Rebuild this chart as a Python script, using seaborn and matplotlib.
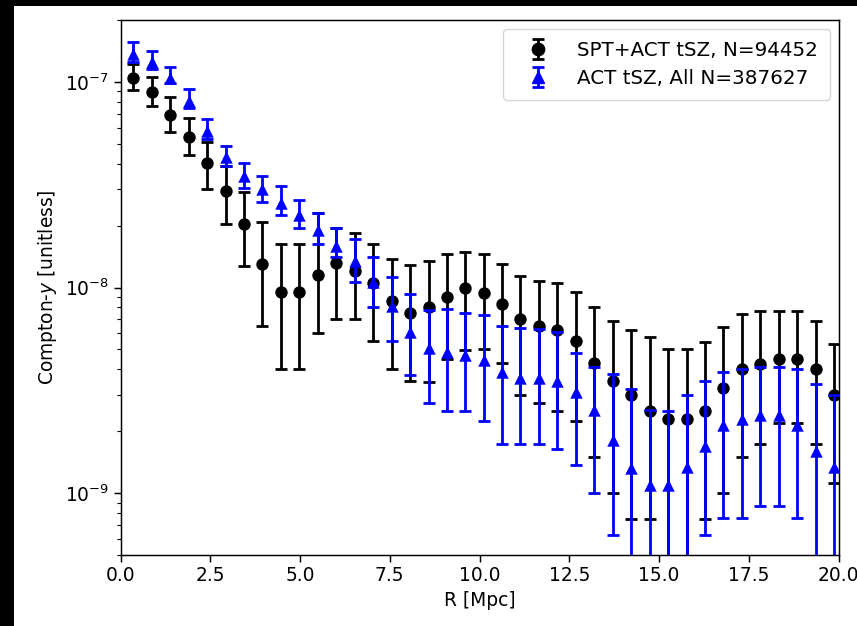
import matplotlib
matplotlib.use("Agg")
import numpy as np
import pandas as pd
import matplotlib.pyplot as plt
import seaborn as sns
from matplotlib.patches import Rectangle
from matplotlib.lines import Line2D
from matplotlib.legend_handler import HandlerTuple

# ---------------- data ----------------
R_mpc = [0.36, 0.87, 1.39, 1.90, 2.41, 2.93, 3.44, 3.95, 4.47, 4.98,
         5.50, 6.01, 6.52, 7.04, 7.55, 8.06, 8.58, 9.09, 9.60, 10.12,
         10.63, 11.14, 11.66, 12.17, 12.68, 13.20, 13.71, 14.22, 14.74, 15.25,
         15.77, 16.28, 16.79, 17.31, 17.82, 18.33, 18.85, 19.36, 19.87]

spt_y = [1.05e-7, 8.9e-8, 6.9e-8, 5.4e-8, 4.05e-8, 2.95e-8, 2.03e-8, 1.3e-8, 9.5e-9, 9.5e-9,
         1.15e-8, 1.31e-8, 1.2e-8, 1.05e-8, 8.6e-9, 7.5e-9, 8.0e-9, 9.0e-9, 9.96e-9, 9.45e-9,
         8.3e-9, 7.0e-9, 6.5e-9, 6.2e-9, 5.5e-9, 4.3e-9, 3.5e-9, 3.0e-9, 2.5e-9, 2.3e-9,
         2.3e-9, 2.5e-9, 3.25e-9, 4.0e-9, 4.25e-9, 4.5e-9, 4.5e-9, 4.0e-9, 3.0e-9]
spt_lo = [9.1e-8, 7.6e-8, 5.7e-8, 4.4e-8, 3.0e-8, 2.03e-8, 1.27e-8, 6.5e-9, 4.0e-9, 4.0e-9,
          6.0e-9, 7.0e-9, 7.0e-9, 5.5e-9, 4.0e-9, 3.5e-9, 3.47e-9, 4.5e-9, 4.95e-9, 5.05e-9,
          4.3e-9, 3.0e-9, 2.74e-9, 2.5e-9, 2.24e-9, 1.5e-9, 1.0e-9, 7.5e-10, 7.5e-10, 1e-10,
          1e-10, 7.5e-10, 1.0e-9, 1.5e-9, 1.74e-9, 2.2e-9, 2.2e-9, 1.74e-9, 1.12e-9]
spt_hi = [1.22e-7, 1.06e-7, 8.4e-8, 6.7e-8, 5.1e-8, 3.9e-8, 2.9e-8, 2.08e-8, 1.62e-8, 1.62e-8,
          2.3e-8, 1.94e-8, 1.85e-8, 1.62e-8, 1.38e-8, 1.29e-8, 1.35e-8, 1.45e-8, 1.49e-8, 1.45e-8,
          1.3e-8, 1.14e-8, 1.08e-8, 1.05e-8, 9.5e-9, 8.0e-9, 6.9e-9, 6.2e-9, 5.75e-9, 5.0e-9,
          5.0e-9, 5.45e-9, 6.4e-9, 7.45e-9, 7.7e-9, 7.7e-9, 7.7e-9, 6.9e-9, 5.3e-9]

act_y = [1.37e-7, 1.25e-7, 1.05e-7, 8.1e-8, 5.8e-8, 4.3e-8, 3.5e-8, 3.0e-8, 2.57e-8, 2.25e-8,
         1.9e-8, 1.6e-8, 1.34e-8, 1.06e-8, 8.1e-9, 6.1e-9, 5.1e-9, 4.85e-9, 4.7e-9, 4.45e-9,
         3.87e-9, 3.63e-9, 3.63e-9, 3.5e-9, 3.12e-9, 2.53e-9, 1.81e-9, 1.33e-9, 1.1e-9, 1.1e-9,
         1.34e-9, 1.7e-9, 2.15e-9, 2.3e-9, 2.4e-9, 2.4e-9, 2.15e-9, 1.6e-9, 1.34e-9]
act_lo = [1.25e-7, 1.16e-7, 9.9e-8, 7.5e-8, 5.3e-8, 3.9e-8, 3.06e-8, 2.6e-8, 2.24e-8, 1.94e-8,
          1.62e-8, 1.4e-8, 1.06e-8, 8.0e-9, 5.5e-9, 3.75e-9, 2.75e-9, 2.5e-9, 2.5e-9, 2.25e-9,
          1.74e-9, 1.74e-9, 1.74e-9, 1.63e-9, 1.37e-9, 1.0e-9, 6.25e-10, 1e-10, 1e-10, 1e-10,
          1e-10, 6.25e-10, 7.6e-10, 7.6e-10, 8.7e-10, 8.7e-10, 7.6e-10, 1e-10, 1e-10]
act_hi = [1.57e-7, 1.41e-7, 1.18e-7, 9.2e-8, 6.6e-8, 4.9e-8, 4.05e-8, 3.5e-8, 3.1e-8, 2.67e-8,
          2.31e-8, 1.95e-8, 1.73e-8, 1.41e-8, 1.13e-8, 9.3e-9, 7.8e-9, 7.85e-9, 7.5e-9, 7.35e-9,
          6.5e-9, 6.35e-9, 6.3e-9, 6.1e-9, 4.8e-9, 4.1e-9, 3.8e-9, 3.2e-9, 2.55e-9, 2.5e-9,
          3.0e-9, 3.5e-9, 3.9e-9, 4.0e-9, 4.1e-9, 4.1e-9, 4.0e-9, 3.4e-9, 3.0e-9]

label_spt = "SPT+ACT tSZ, N=94452"
label_act = "ACT tSZ, All N=387627"
x_ticks = [0.0, 2.5, 5.0, 7.5, 10.0, 12.5, 15.0, 17.5, 20.0]
x_tick_labels = ["0.0", "2.5", "5.0", "7.5", "10.0", "12.5", "15.0", "17.5", "20.0"]

# ---------------- tables ----------------
spt = pd.DataFrame({"R": R_mpc, "y": spt_y, "lo": spt_lo, "hi": spt_hi})
act = pd.DataFrame({"R": R_mpc, "y": act_y, "lo": act_lo, "hi": act_hi})

# ---------------- figure ----------------
FS = 13.4
plt.rcParams.update({
    "font.family": ["DejaVu Sans"],
    "font.size": FS,
    "axes.linewidth": 1.07,
    "xtick.major.width": 1.07, "ytick.major.width": 1.07,
    "xtick.minor.width": 0.8, "ytick.minor.width": 0.8,
    "xtick.major.size": 4.7, "ytick.major.size": 4.7,
    "xtick.minor.size": 2.7, "ytick.minor.size": 2.7,
    "mathtext.fontset": "dejavusans",
})

fig = plt.figure(figsize=(8.57, 6.26), dpi=100, facecolor="black")
fig.add_artist(Rectangle((14 / 857, 0), 1, 1 - 6 / 626, transform=fig.transFigure,
                         facecolor="white", edgecolor="none", zorder=0))
ax = fig.add_axes([120.5 / 857, 1 - 555 / 626, (838.5 - 120.5) / 857, (555 - 20) / 626])
ax.set_zorder(1)

eb_kw = dict(fmt="none", elinewidth=2.0, capsize=4.0, capthick=2.0)
eb_spt = ax.errorbar(spt["R"], spt["y"],
                     yerr=[spt["y"] - spt["lo"], spt["hi"] - spt["y"]],
                     ecolor="black", zorder=2, **eb_kw)
sns.scatterplot(data=spt, x="R", y="y", ax=ax, color="black", marker="o",
                s=80, linewidth=0, zorder=3, legend=False)

eb_act = ax.errorbar(act["R"], act["y"],
                     yerr=[act["y"] - act["lo"], act["hi"] - act["y"]],
                     ecolor="blue", zorder=4, **eb_kw)
sns.scatterplot(data=act, x="R", y="y", ax=ax, color="blue", marker="^",
                s=80, linewidth=0, zorder=5, legend=False)

ax.set_yscale("log")
ax.set_xlim(0, 20)
ax.set_ylim(5e-10, 2e-7)
ax.set_xticks(x_ticks)
ax.set_xticklabels(x_tick_labels)
ax.tick_params(labelsize=FS)
ax.set_xlabel("R [Mpc]", fontsize=FS)
ax.set_ylabel("Compton-$y$ [unitless]", fontsize=FS)

m_spt = Line2D([], [], linestyle="none", marker="o", color="black", markersize=8.9)
m_act = Line2D([], [], linestyle="none", marker="^", color="blue", markersize=8.9)
ax.legend([(eb_spt, m_spt), (eb_act, m_act)], [label_spt, label_act],
          handler_map={tuple: HandlerTuple(ndivide=1)},
          loc="upper right", fontsize=14.3, numpoints=1,
          borderaxespad=0.45, labelspacing=0.45, borderpad=0.6,
          handlelength=2.3)

fig.savefig("out.png", dpi=100, facecolor=fig.get_facecolor())
